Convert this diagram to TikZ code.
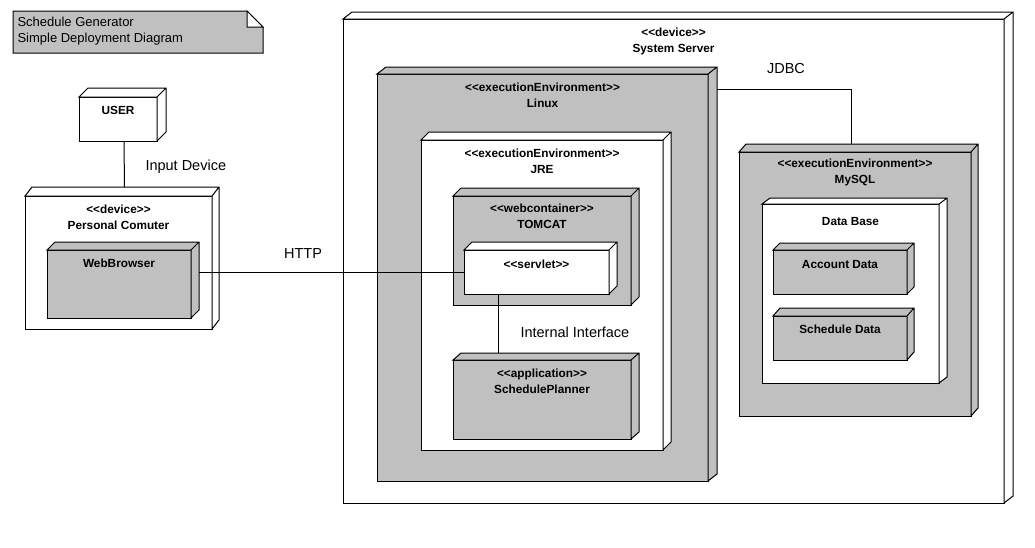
\documentclass[tikz,border=0pt]{standalone}
\usepackage{fontspec}
\setmainfont{Liberation Sans}[Ligatures=TeXOff]
\begin{document}
\begin{tikzpicture}[x=1pt,y=-1pt,
  line width=1pt,
  box/.style={draw, rectangle, inner sep=0pt, outer sep=0pt, anchor=north west},
  lbl/.style={anchor=north, yshift=-8.5pt, inner sep=0pt, align=center,
              font=\fontsize{11.8}{16}\selectfont\bfseries},
  conn/.style={draw, line width=1pt},
  tag/.style={inner sep=0pt, font=\fontsize{14.5}{16}\selectfont},
  notetext/.style={inner sep=0pt, anchor=north west, align=left,
              font=\fontsize{13}{16}\selectfont}
]
\definecolor{gr}{HTML}{C0C0C0}
\newcommand\dface[4]{% name, fill, dx, dy (pt)
  \filldraw[fill=#2] (#1.north west) -- ++(#3pt,#4pt) -- ([shift={(#3pt,#4pt)}]#1.north east)
    -- ([shift={(#3pt,#4pt)}]#1.south east) -- (#1.south east) -- (#1.north east) -- cycle
    (#1.north east) -- ++(#3pt,#4pt);
}
\useasboundingbox (0,0) rectangle (1035,547);
\fill[white] (0,0) rectangle (1035,547);

% note
\filldraw[fill=gr] (13,11) -- (247,11) -- (263,27) -- (263,53) -- (13,53) -- cycle;
\filldraw[fill=white] (247,11) -- (247,27) -- (263,27) -- cycle;
\node[notetext] (note) at (17,17) {Schedule Generator\\Simple Deployment Diagram};

% USER
\node[box, fill=white, minimum width=78pt, minimum height=44pt,
      label={[lbl]north:USER}] (user) at (79,97) {};
\dface{user}{white}{9}{9}

% Personal Computer
\node[box, fill=white, minimum width=187pt, minimum height=133pt,
      label={[lbl]north:{<<device>>\\Personal Comuter}}] (pc) at (25,196) {};
\dface{pc}{white}{7}{9}
\node[box, fill=gr, minimum width=144pt, minimum height=68pt,
      label={[lbl]north:WebBrowser}] (browser) at (47,250) {};
\dface{browser}{gr}{8}{8}

% System Server
\node[box, fill=white, minimum width=661pt, minimum height=484pt,
      label={[lbl]north:{<<device>>\\System Server}}] (server) at (343,19) {};
\dface{server}{white}{9}{7}

% Linux
\node[box, fill=gr, minimum width=331pt, minimum height=407pt,
      label={[lbl]north:{<<executionEnvironment>>\\Linux}}] (linux) at (377,74) {};
\dface{linux}{gr}{9}{7}

% JRE
\node[box, fill=white, minimum width=242pt, minimum height=310pt,
      label={[lbl]north:{<<executionEnvironment>>\\JRE}}] (jre) at (421,140) {};
\dface{jre}{white}{8}{8}

% TOMCAT
\node[box, fill=gr, minimum width=178pt, minimum height=109pt,
      label={[lbl,yshift=1pt]north:{<<webcontainer>>\\TOMCAT}}] (tomcat) at (453,196) {};
\dface{tomcat}{gr}{8}{8}
\node[box, fill=white, minimum width=145pt, minimum height=44pt,
      label={[lbl,yshift=-1pt]north:{<<servlet>>}}] (servlet) at (464,250) {};
\dface{servlet}{white}{8}{8}

% SchedulePlanner
\node[box, fill=gr, minimum width=178pt, minimum height=79pt,
      label={[lbl]north:{<<application>>\\SchedulePlanner}}] (planner) at (453,360) {};
\dface{planner}{gr}{8}{7}

% MySQL
\node[box, fill=gr, minimum width=232pt, minimum height=264pt,
      label={[lbl,yshift=2pt]north:{<<executionEnvironment>>\\MySQL}}] (mysql) at (739,152) {};
\dface{mysql}{gr}{7}{8}
\node[box, fill=white, minimum width=177pt, minimum height=179pt,
      label={[lbl,yshift=-4pt]north:{Data Base}}] (db) at (762,204) {};
\dface{db}{white}{8}{6}
\node[box, fill=gr, minimum width=134pt, minimum height=44pt,
      label={[lbl,yshift=-1pt]north:{Account Data}}] (account) at (773,250) {};
\dface{account}{gr}{7}{7}
\node[box, fill=gr, minimum width=134pt, minimum height=44pt,
      label={[lbl]north:{Schedule Data}}] (sdata) at (773,316) {};
\dface{sdata}{gr}{7}{8}

% connectors
\draw[conn] ([xshift=6pt]user.south) -- ([xshift=6pt,yshift=9pt]pc.north);
\draw[conn] ([xshift=8pt]browser.east |- servlet.west) -- (servlet.west);
\draw[conn] ([xshift=-38.5pt]servlet.south) -- ([xshift=-44pt,yshift=7pt]planner.north);
\draw[conn] ([shift={(9pt,-15pt)}]linux.north east) -| ([xshift=-4pt,yshift=8pt]mysql.north);

% connector labels
\node[tag, anchor=west] (lin) at (145,167) {Input Device};
\node[tag] (lhttp) at (303,254) {HTTP};
\node[tag, anchor=west] (lint) at (520,332) {Internal Interface};
\node[tag] (ljdbc) at (786,69) {JDBC};
\end{tikzpicture}
\end{document}
